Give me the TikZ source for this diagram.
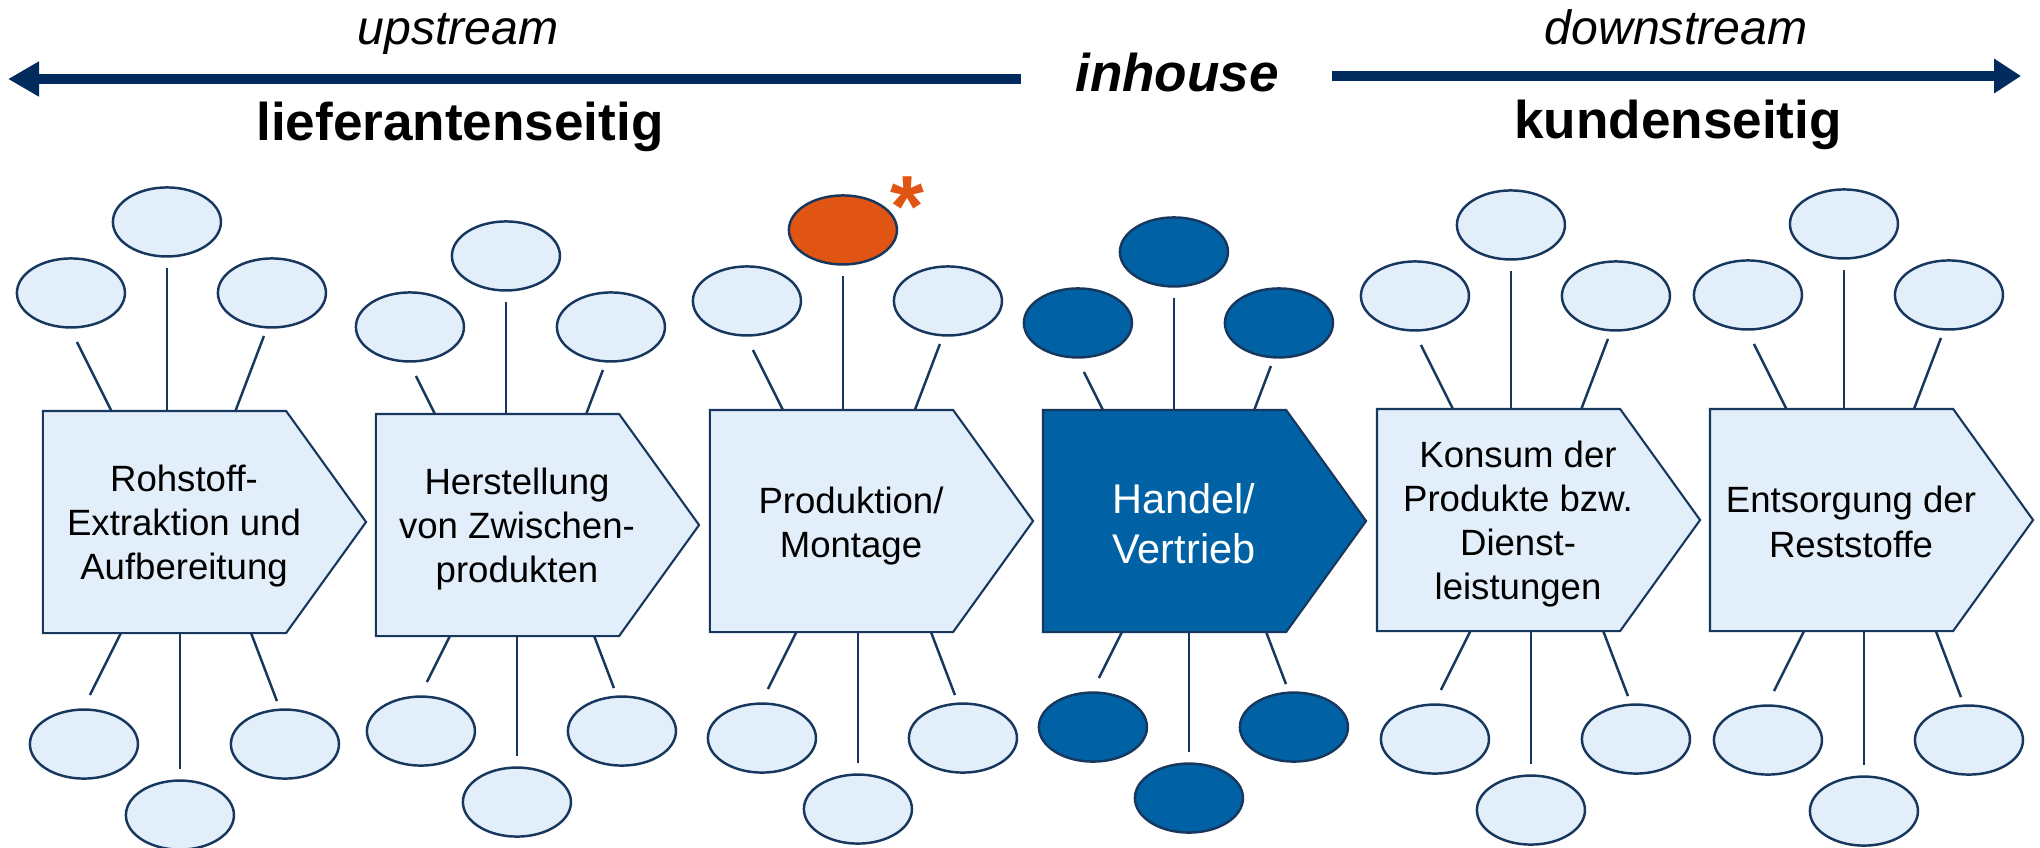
\documentclass[tikz,border=0pt]{standalone}
\usepackage{fontspec}
\setmainfont{Liberation Sans}
\usetikzlibrary{arrows.meta,calc,shapes.geometric,positioning}
\definecolor{vcNavy}{HTML}{002B5C}
\definecolor{vcLine}{HTML}{17375E}
\definecolor{vcLight}{HTML}{E2EFFA}
\definecolor{vcDark}{HTML}{0062A5}
\definecolor{vcOrange}{HTML}{E05414}
\tikzset{
  vc flow/.style={
    draw=vcNavy,
    line width=2.7pt,
    -{Triangle[length=#1,width=3.3mm]}
  },
  vc flow/.default=3mm,
  vc stage/.style={rectangle, minimum width=2.43cm, minimum height=2.22cm,
    inner sep=0pt, outer sep=0pt},
  vc shape/.style={draw=vcLine, fill=#1, line width=.6pt},
  vc bubble/.style={ellipse, draw=vcLine, fill=#1, line width=.7pt,
    minimum width=1.08cm, minimum height=.69cm, inner sep=0pt},
  vc spoke/.style={draw=vcLine, line width=.7pt},
  vc label/.style={align=center, text=black, font=\fontsize{10.4}{12.6}\selectfont},
  vc label dark/.style={align=center, text=white, font=\fontsize{11.8}{14.2}\selectfont},
  vc dir/.style={anchor=base, inner sep=0pt, font=\fontsize{13.7}{16}\selectfont\itshape},
  vc side/.style={anchor=base, inner sep=0pt, font=\fontsize{15.1}{18}\selectfont\bfseries},
  vc star/.style={anchor=base, inner sep=0pt, text=vcOrange, font=\fontsize{24.7}{25}\selectfont\bfseries}
}

\begin{document}
\begin{tikzpicture}[x=.01cm,y=.01cm]
  \useasboundingbox (0,0) rectangle (2040,847);

  % direction arrows
  \node[vc dir] (upstream) at (458,803) {upstream};
  \node[vc dir] (downstream) at (1676,803) {downstream};
  \node[vc side, font=\fontsize{15.1}{18}\selectfont\bfseries\itshape] (inhouse) at (1177,756) {inhouse};
  \node[vc side] (supplier) at (460,707) {lieferantenseitig};
  \node[vc side] (customer) at (1678,709) {kundenseitig};
  \coordinate (up start) at (1021,768);
  \coordinate (up tip) at (8,768);
  \coordinate (down start) at (1332,771);
  \coordinate (down tip) at (2021,771);
  \draw[vc flow=3.1mm] (up start) -- (up tip);
  \draw[vc flow=2.7mm] (down start) -- (down tip);

  % stages with their bubbles
  \foreach \n/\cx/\cy/\qx/\ty/\bx/\by/\bc/\tc in {
      1/164.5/325/0/118/0/111/vcLight/vcLight,
      2/497.5/322/6/87/4/95/vcLight/vcLight,
      3/831.5/326/9/109/11/106/vcLight/vcOrange,
      4/1164.5/326/7/87/9/95/vcDark/vcDark,
      5/1498.5/327/10/113/17/108/vcLight/vcLight,
      6/1831.5/327/10/114/17/109/vcLight/vcLight}{
    \node[vc stage] (s\n) at (\cx,\cy) {};
    \path[vc shape=\bc] (s\n.north west) -- (s\n.north east) -- ($(s\n.east)+(80,0)$)
      -- (s\n.south east) -- (s\n.south west) -- cycle;
    \node[vc bubble=\bc] (ul\n) at ($(s\n.north west)+(28+\qx,\ty)$) {};
    \node[vc bubble=\bc] (ur\n) at ($(s\n.north west)+(229+\qx,\ty)$) {};
    \node[vc bubble=\tc] (ut\n) at ($(s\n.north west)+(124+\qx,\ty+71)$) {};
    \node[vc bubble=\bc] (dl\n) at ($(s\n.south west)+(41+\bx,-\by)$) {};
    \node[vc bubble=\bc] (dr\n) at ($(s\n.south west)+(242+\bx,-\by)$) {};
    \node[vc bubble=\bc] (dc\n) at ($(s\n.south west)+(137+\bx,-\by-71)$) {};
    \draw[vc spoke] (s\n.north -| ut\n) -- ([yshift=-1mm]ut\n.south);
    \draw[vc spoke] (s\n.south -| dc\n) -- ([yshift=1mm]dc\n.north);
    \draw[vc spoke] ([shift={(6,-49)}]ul\n.center) -- ++({0.5*(\ty-49)},{49-\ty});
    \draw[vc spoke] ([shift={(-8,-43)}]ur\n.center) -- ++({-0.38*(\ty-43)},{43-\ty});
    \draw[vc spoke] ([shift={(6,49)}]dl\n.center) -- ++({0.5*(\by-49)},{\by-49});
    \draw[vc spoke] ([shift={(-8,43)}]dr\n.center) -- ++({-0.38*(\by-43)},{\by-43});
  }

  \node[vc label] (t1) at ([shift={(19.5,-4)}]s1.center) {Rohstoff-\\Extraktion und\\Aufbereitung};
  \node[vc label] (t2) at ([shift={(19.5,-4)}]s2.center) {Herstellung\\von Zwischen-\\produkten};
  \node[vc label] (t3) at ([shift={(19.5,-5)}]s3.center) {Produktion/\\Montage};
  \node[vc label dark] (t4) at ([shift={(19.5,-3)}]s4.center) {Handel/\\Vertrieb};
  \node[vc label] (t5) at ([shift={(19.5,-4)}]s5.center) {Konsum der\\Produkte bzw.\\Dienst-\\leistungen};
  \node[vc label] (t6) at ([shift={(19.5,-2)}]s6.center) {Entsorgung der\\Reststoffe};
  \node[vc star] (star) at (907,611) {*};
\end{tikzpicture}
\end{document}
